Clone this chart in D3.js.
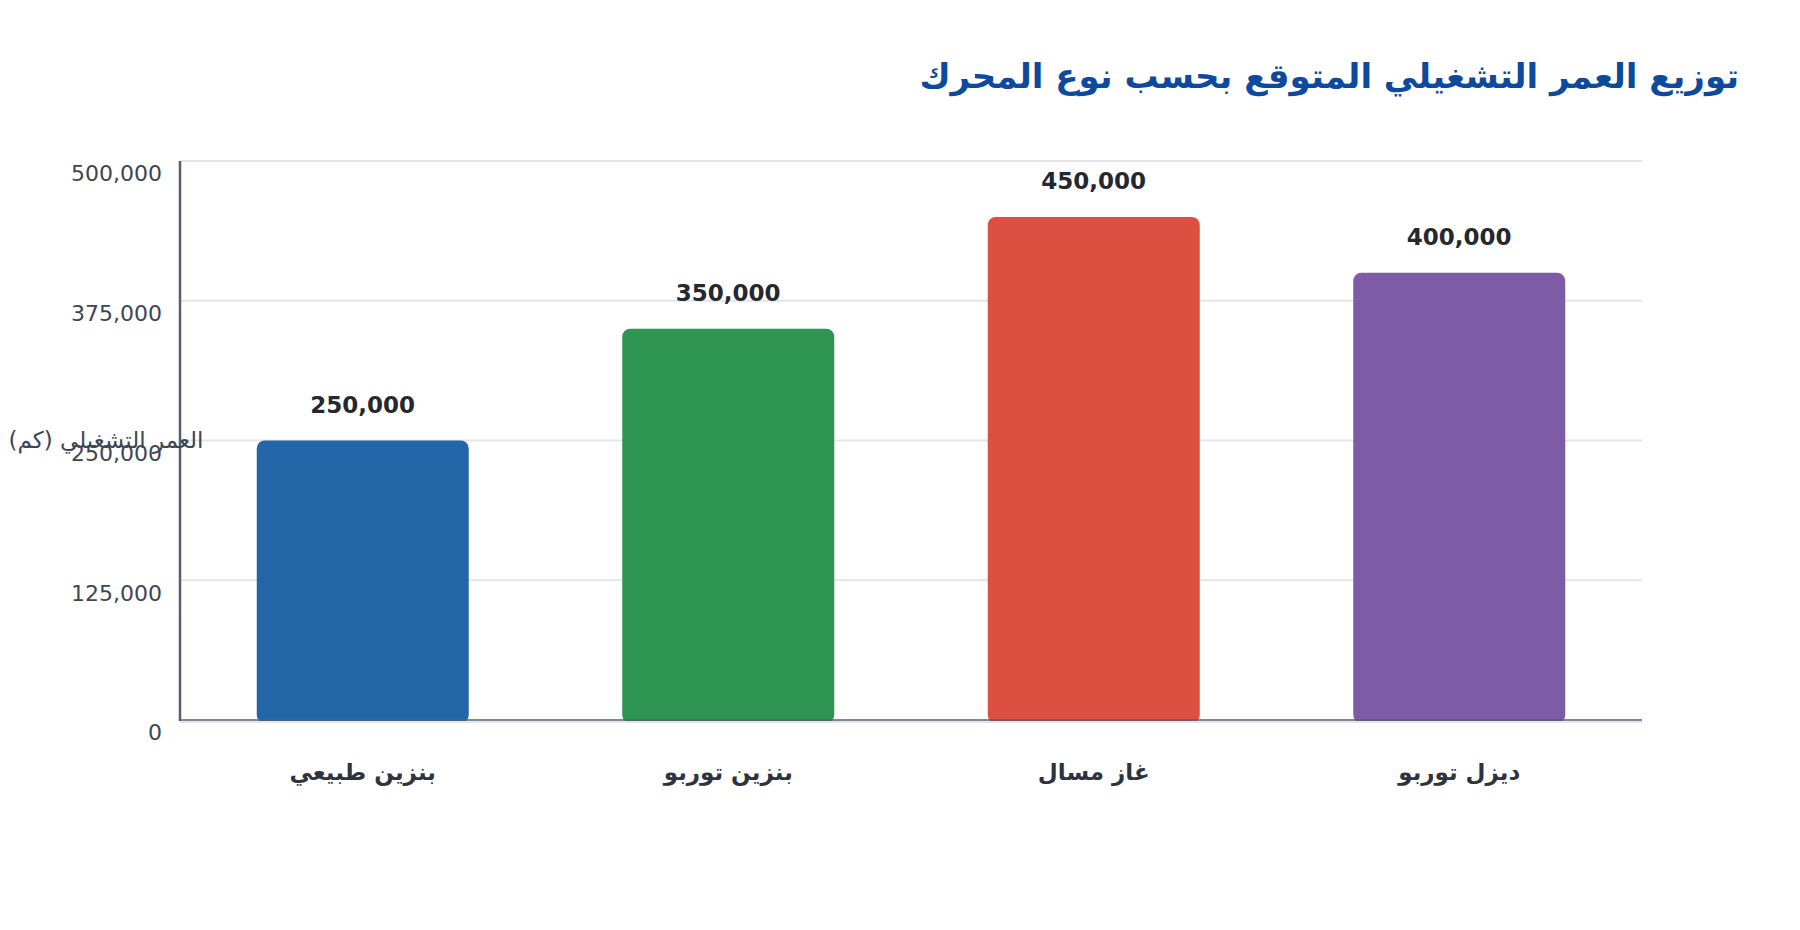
<!DOCTYPE html>
<html><head><meta charset="utf-8">
<script src="https://cdn.jsdelivr.net/npm/d3@7"></script>
<style>
html,body{margin:0;padding:0;background:#fff;}
svg{display:block;font-family:"DejaVu Sans",sans-serif;}
</style></head>
<body>
<svg id="chart" width="1800" height="930"></svg>
<script>
const categories = ["بنزين طبيعي","بنزين توربو","غاز مسال","ديزل توربو"];
const values = [250000, 350000, 450000, 400000];
const colors = ["#2366a8","#2e9451","#dc4f41","#7d5ba6"];
const yTicks = [0, 125000, 250000, 375000, 500000];
const title = "توزيع العمر التشغيلي المتوقع بحسب نوع المحرك";
const yTitle = "العمر التشغيلي (كم)";

const svg = d3.select("#chart");
const m = {left:180, right:1642, top:161, bottom:720};
const x = d3.scaleBand().domain(categories).range([m.left, m.right]).paddingInner(0.42).paddingOuter(0.21);
const y = d3.scaleLinear().domain([0, 500000]).range([m.bottom, m.top]);
const fmt = d3.format(",");

// title
svg.append("text").attr("x",1739).attr("y",88).attr("text-anchor","end")
  .attr("fill","#0d4a9e").attr("font-weight","bold").attr("font-size",34).text(title);

// grid
svg.append("g").selectAll("line").data(yTicks.filter(d=>d>0)).join("line")
  .attr("x1",m.left).attr("x2",m.right).attr("y1",d=>y(d)).attr("y2",d=>y(d))
  .attr("stroke","#e3e5e9").attr("stroke-width",2);

// y axis
const yAxis = svg.append("g").attr("transform",`translate(${m.left},0)`)
  .call(d3.axisLeft(y).tickValues(yTicks).tickFormat(fmt).tickSize(0).tickPadding(18));
yAxis.select(".domain").remove();
yAxis.selectAll("text").attr("font-size",22).attr("fill","#3d4654")
  .attr("font-family","DejaVu Sans").attr("dy","0.9em");

// bars
svg.append("g").selectAll("rect").data(values).join("rect")
  .attr("x",(d,i)=>x(categories[i])).attr("width",x.bandwidth())
  .attr("y",d=>y(d)).attr("height",d=>y(0)-y(d)+3)
  .attr("rx",8).attr("fill",(d,i)=>colors[i]);

// axis lines
svg.append("line").attr("x1",m.left).attr("x2",m.left).attr("y1",m.top).attr("y2",m.bottom+1)
  .attr("stroke","#565f6e").attr("stroke-width",2.5);
svg.append("line").attr("x1",m.left).attr("x2",m.right).attr("y1",m.bottom).attr("y2",m.bottom)
  .attr("stroke","#565f6e").attr("stroke-width",1.5);
svg.append("line").attr("x1",m.left).attr("x2",m.right).attr("y1",m.bottom+2).attr("y2",m.bottom+2)
  .attr("stroke","#e3e5e9").attr("stroke-width",2);

// value labels
svg.append("g").selectAll("text").data(values).join("text")
  .attr("x",(d,i)=>x(categories[i])+x.bandwidth()/2).attr("y",d=>y(d)-28)
  .attr("text-anchor","middle").attr("font-weight","bold").attr("font-size",23)
  .attr("fill","#25292f").text(d=>fmt(d));

// x labels
const xAxis = svg.append("g").attr("transform",`translate(0,${m.bottom})`)
  .call(d3.axisBottom(x).tickSize(0).tickPadding(44));
xAxis.select(".domain").remove();
xAxis.selectAll("text").attr("font-size",23).attr("font-weight","bold")
  .attr("fill","#2d3340").attr("font-family","DejaVu Sans");

// y title
svg.append("text").attr("x",106).attr("y",441).attr("text-anchor","middle")
  .attr("dominant-baseline","middle").attr("font-size",23).attr("fill","#3d4654").text(yTitle);
</script>
</body></html>
